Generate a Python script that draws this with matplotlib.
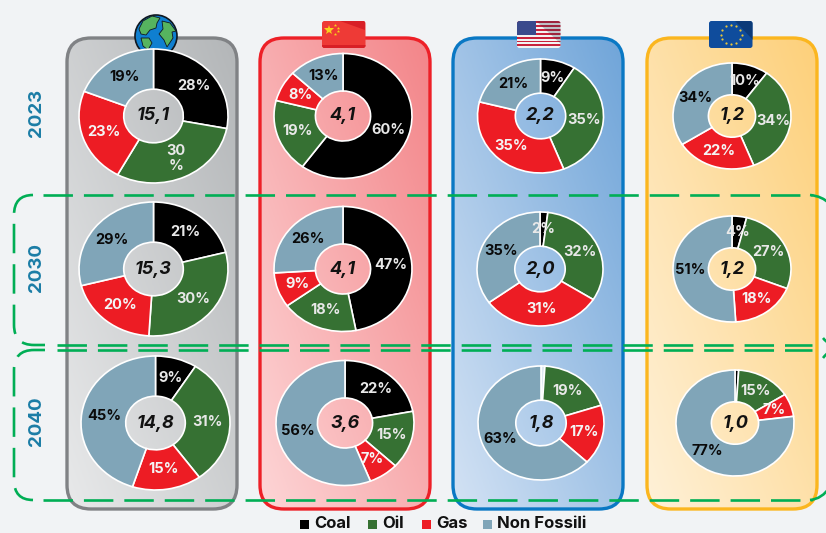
import matplotlib
matplotlib.use("Agg")
import matplotlib.pyplot as plt
import numpy as np
from matplotlib.patches import Circle, FancyBboxPatch, PathPatch, Polygon, Rectangle
from matplotlib.path import Path

plt.rcParams["font.family"] = ["Inter", "DejaVu Sans"]
plt.rcParams["lines.scale_dashes"] = False

W, H = 826, 533

# Data, one row per year, columns as in the panels
years = ["2023", "2030", "2040"]
regions = ["World", "China", "USA", "EU"]
fuels = ["Coal", "Oil", "Gas", "Non Fossili"]

totals_2023 = ["15,1", "4,1", "2,2", "1,2"]
totals_2030 = ["15,3", "4,1", "2,0", "1,2"]
totals_2040 = ["14,8", "3,6", "1,8", "1,0"]

world_shares = [[28, 30, 23, 19], [21, 30, 20, 29], [9, 31, 15, 45]]
china_shares = [[60, 19, 8, 13], [47, 18, 9, 26], [22, 15, 7, 56]]
usa_shares = [[9, 35, 35, 21], [2, 32, 31, 35], [1, 19, 17, 63]]
eu_shares = [[10, 34, 22, 34], [4, 27, 18, 51], [1, 15, 7, 77]]

all_shares = [world_shares, china_shares, usa_shares, eu_shares]
all_totals = [totals_2023, totals_2030, totals_2040]

fuel_colors = ["#000000", "#367133", "#ed1c24", "#80a5b8"]
label_colors = ["#e8e8e8", "#e8e8e8", "#f4f4f4", "#0a0a0a"]
green = "#00ae55"
teal = "#1b7da6"

# Layout in pixels
panel_x = [(67, 237), (260, 430), (453, 623), (647, 817)]
panel_top, panel_bottom = 38, 509
panel_edges = ["#808285", "#ed2027", "#0a78c4", "#fbb61f"]
panel_low = ["#e8e9ea", "#fdd5d6", "#d3e2f4", "#fff1d8"]
panel_high = ["#b3b6b8", "#f38589", "#70a5d9", "#fdd07a"]

donut_x = [[153.5, 343, 540.5, 732], [153.5, 343, 540, 732], [155.5, 345, 541, 735]]
donut_y = [116, 269, 423]
radius_x = [74.5, 69, 63, 59]
radius_y = [67, 62.5, 57, 53]
year_y = [113, 268, 421]

fig = plt.figure(figsize=(W / 100, H / 100), dpi=100, facecolor="#f1f3f5")
ax = fig.add_axes([0, 0, 1, 1])
ax.set_xlim(0, W)
ax.set_ylim(H, 0)
ax.axis("off")


def hex_rgb(c):
    return np.array(matplotlib.colors.to_rgb(c))


# Panels with a diagonal gradient
for i in range(4):
    x0, x1 = panel_x[i]
    box = FancyBboxPatch((x0, panel_top), x1 - x0, panel_bottom - panel_top,
                         boxstyle="round,pad=0,rounding_size=24",
                         fc="none", ec=panel_edges[i], lw=2.4, zorder=2)
    ax.add_patch(box)
    gx, gy = np.meshgrid(np.linspace(0, 1, 80), np.linspace(0, 1, 160))
    t = (gx * 0.5 + (1 - gy) * 0.5)[..., None]
    rgb = hex_rgb(panel_low[i]) * (1 - t) + hex_rgb(panel_high[i]) * t
    im = ax.imshow(rgb, extent=(x0, x1, panel_bottom, panel_top), aspect="auto", zorder=1)
    im.set_clip_path(box)
ax.set_xlim(0, W)
ax.set_ylim(H, 0)

# Green dashed frames around 2030 and 2040
dash_style = dict(color=green, lw=1.9, dashes=(21.2, 7.9), dash_capstyle="butt", zorder=3)
for y, start in [(195, 43), (345, 57), (350, 57), (500, 43)]:
    ax.plot([start, 812], [y, y], **dash_style)


def curve(points, codes):
    patch = PathPatch(Path(points, codes), fc="none", ec=green, lw=1.9,
                      linestyle=(0, (21.2, 7.9)), capstyle="butt", zorder=3)
    ax.add_patch(patch)


M, L, C = Path.MOVETO, Path.LINETO, Path.CURVE3
curve([(33, 195), (14, 195), (14, 215), (14, 325), (14, 345), (34, 345), (45, 345)],
      [M, C, C, L, C, C, L])
curve([(45, 350), (34, 350), (14, 350), (14, 370), (14, 480), (14, 500), (33, 500)],
      [M, L, C, C, L, C, C])
curve([(810, 195), (822, 196), (830, 204)], [M, C, C])
curve([(810, 500), (822, 499), (830, 487)], [M, C, C])
curve([(823, 338), (826, 342), (830, 344)], [M, C, C])
curve([(823, 358), (826, 354), (830, 351)], [M, C, C])

# Globe
ax.add_patch(Circle((156, 36), 21, fc="#0f7fd0", ec="#101820", lw=1.2, zorder=4))
land = [
    [(139, 29), (143, 21), (152, 16), (160, 18), (157, 23), (156, 28), (150, 30), (146, 35), (141, 34)],
    [(162, 21), (170, 23), (176, 31), (172, 32), (173, 38), (167, 47), (164, 40), (159, 34), (163, 29)],
    [(141, 38), (149, 38), (152, 43), (148, 50), (143, 46)],
]
for pts in land:
    ax.add_patch(Polygon(pts, closed=True, fc="#56b45f", ec="#101820", lw=0.6, zorder=5))

# Flags
flag_y0, flag_y1 = 21, 48
flags_x = [322, 517, 709]
flags_color = ["#ee3a36", "#f2f2f2", "#0f4c9c"]
flag_boxes = []
for fx, fc in zip(flags_x, flags_color):
    flag = FancyBboxPatch((fx, flag_y0), 43.5, flag_y1 - flag_y0,
                          boxstyle="round,pad=0,rounding_size=2.5", fc=fc, ec="none", zorder=4)
    ax.add_patch(flag)
    flag_boxes.append(flag)

# China
ax.plot([329], [29.5], marker="*", ms=7, color="#f8d21c", mew=0, zorder=5)
ax.plot([335, 338, 338, 335], [25, 27.5, 31, 34], ls="", marker="*", ms=2.5, color="#f8d21c",
        mew=0, zorder=5)
shade = Polygon([(340, 21), (365, 21), (365, 30)], closed=True, fc="#d81f26", ec="none", zorder=5)
ax.add_patch(shade)
shade.set_clip_path(flag_boxes[0])
band = Rectangle((322, 45), 43.5, 3, fc="#d81f26", ec="none", zorder=5)
ax.add_patch(band)
band.set_clip_path(flag_boxes[0])

# USA
for k in range(7):
    stripe = Rectangle((517, 21 + k * 3.9), 43.5, 1.95, fc="#c8223c", ec="none", zorder=5)
    ax.add_patch(stripe)
    stripe.set_clip_path(flag_boxes[1])
canton = Rectangle((517, 21), 19, 13.5, fc="#3a4a8c", ec="none", zorder=6)
ax.add_patch(canton)
canton.set_clip_path(flag_boxes[1])
flag_shade = Polygon([(536, 21), (560.5, 21), (560.5, 44)], closed=True, fc="#203040", alpha=0.25,
                     ec="none", zorder=6)
ax.add_patch(flag_shade)
flag_shade.set_clip_path(flag_boxes[1])

# EU
eu_shade = Polygon([(735, 21), (752.5, 21), (752.5, 40)], closed=True, fc="#0c3a78", ec="none", zorder=5)
ax.add_patch(eu_shade)
eu_shade.set_clip_path(flag_boxes[2])
star_angles = np.linspace(0, 2 * np.pi, 12, endpoint=False)
ax.plot(731 + 10.5 * np.cos(star_angles), 34.5 + 9.5 * np.sin(star_angles), ls="",
        marker="o", ms=1.6, color="#e8c53a", mew=0, zorder=6)

# Year labels
for year, y in zip(years, year_y):
    ax.text(37, y, year, rotation=90, ha="center", va="center", color=teal,
            fontsize=13.5, fontweight="bold", zorder=5)

# Donuts
for row in range(3):
    for col in range(4):
        cx, cy = donut_x[row][col], donut_y[row]
        rx, ry = radius_x[col], radius_y[col]
        pad = 1.03
        dax = fig.add_axes([(cx - rx * pad) / W, 1 - (cy + ry * pad) / H,
                            2 * rx * pad / W, 2 * ry * pad / H])
        shares = all_shares[col][row]
        labels = [f"{v}%" if v > 1 else "" for v in shares]
        if col == 0 and row == 0:
            labels[1] = "30\n%"
        wedges, texts = dax.pie(shares, colors=fuel_colors, startangle=90, counterclock=False,
                                labels=labels, labeldistance=0.7,
                                wedgeprops=dict(width=0.6, edgecolor="white", linewidth=1.2))
        for t, c in zip(texts, label_colors):
            t.set(ha="center", va="center", color=c, fontsize=10.5, fontweight="bold",
                  linespacing=1.1)
        if col == 2 and row == 2:
            wedges[0].set_facecolor("#dfe8f2")
        dax.set_aspect("auto")
        dax.set_xlim(-pad, pad)
        dax.set_ylim(-pad, pad)
        dax.patch.set_visible(False)
        dax.text(0, 0, all_totals[row][col], ha="center", va="center", color="#111111",
                 fontsize=13, fontweight="bold", fontstyle="italic")

# Legend
legend_squares = [300, 368, 422, 483]
legend_text = [314, 382, 436, 497]
for name, color, sx, tx in zip(fuels, fuel_colors, legend_squares, legend_text):
    ax.add_patch(Rectangle((sx, 519.5), 9, 9, fc=color, ec="none", zorder=5))
    ax.text(tx, 528.5, name, ha="left", va="baseline", color="#111111", fontsize=12,
            fontweight="bold", zorder=5)

fig.savefig("out.png", dpi=100, facecolor=fig.get_facecolor())
